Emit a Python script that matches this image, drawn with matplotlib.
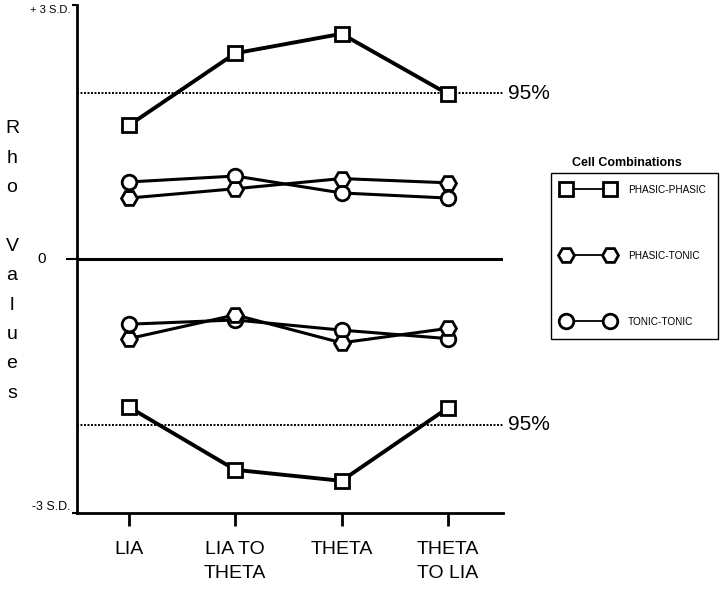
import matplotlib
matplotlib.use('Agg')
import matplotlib.pyplot as plt
from matplotlib.lines import Line2D

plt.rcParams['font.family'] = ['Liberation Sans', 'DejaVu Sans']

# values (in S.D. units)
categories = ['LIA', 'LIA TO\nTHETA', 'THETA', 'THETA\nTO LIA']
phasic_phasic_pos = [1.58, 2.43, 2.66, 1.95]
phasic_phasic_neg = [-1.75, -2.49, -2.62, -1.76]
phasic_tonic_pos = [0.72, 0.83, 0.95, 0.90]
phasic_tonic_neg = [-0.94, -0.66, -0.99, -0.82]
tonic_tonic_pos = [0.91, 0.98, 0.78, 0.72]
tonic_tonic_neg = [-0.77, -0.72, -0.84, -0.94]
sig_level = 1.96
legend_labels = ['PHASIC-PHASIC', 'PHASIC-TONIC', 'TONIC-TONIC']

fig = plt.figure(figsize=(7.2, 5.96), dpi=100)
ax = fig.add_axes([77/720, 1-513/596, (503-77)/720, (513-5)/596])
x = list(range(len(categories)))

ax.axhline(0, color='black', lw=2.2, zorder=1)
for y in (sig_level, -sig_level):
    ax.axhline(y, color='black', lw=1.4, ls=(0, (1, 0.8)), zorder=1)
    ax.text(1.012, y, '95%', transform=ax.get_yaxis_transform(),
            ha='left', va='center', fontsize=15, clip_on=False)

sq = dict(marker='s', ms=10, mfc='white', mec='black', mew=2, color='black', lw=2.8)
hx = dict(marker='H', ms=11.5, mfc='white', mec='black', mew=2, color='black', lw=2.2)
ci = dict(marker='o', ms=10.5, mfc='white', mec='black', mew=2, color='black', lw=2.2)

ax.plot(x, tonic_tonic_pos, **ci)
ax.plot(x, phasic_tonic_pos, **hx)
ax.plot(x, tonic_tonic_neg, **ci)
ax.plot(x, phasic_tonic_neg, **hx)
ax.plot(x, phasic_phasic_pos, **sq)
ax.plot(x, phasic_phasic_neg, **sq)

ax.set_xlim(-0.49, 3.52)
ax.set_ylim(-3, 3)
for s in ('top', 'right'):
    ax.spines[s].set_visible(False)
for s in ('left', 'bottom'):
    ax.spines[s].set_linewidth(2)

ax.set_xticks(x, categories)
ax.tick_params(axis='x', length=9, width=2, pad=11, labelsize=14)
for lab in ax.get_xticklabels():
    lab.set_linespacing(1.55)

ax.set_yticks([-3, 0, 3], ['-3 S.D.', '', '+ 3 S.D.'])
ax.tick_params(axis='y', length=3.5, width=1.5, pad=1)
ylabs = ax.get_yticklabels()
ylabs[0].set_fontsize(9)
ylabs[0].set_verticalalignment('bottom')
ylabs[2].set_fontsize(8)
ylabs[2].set_verticalalignment('top')
ax.yaxis.get_major_ticks()[1].tick1line.set_markersize(8)
ax.text(-0.082, 0, '0', transform=ax.get_yaxis_transform(),
        ha='center', va='center', fontsize=11)

fig.text(12/720, 1-261/596, 'R\nh\no\n\nV\na\nl\nu\ne\ns', ha='center', va='center',
         fontsize=14, linespacing=1.95)

handles = [
    Line2D([], [], color='black', lw=1.3, marker='s', ms=10, mfc='white', mew=2),
    Line2D([], [], color='black', lw=1.3, marker='H', ms=11.5, mfc='white', mew=2),
    Line2D([], [], color='black', lw=1.3, marker='o', ms=10.5, mfc='white', mew=2),
]
leg = fig.legend(handles, legend_labels, loc='upper left',
                 bbox_to_anchor=(551/720, 1-173/596), numpoints=2, fontsize=7.2,
                 handlelength=5.0, handletextpad=1.5, labelspacing=5.6,
                 borderpad=1.2, fancybox=False, edgecolor='black',
                 framealpha=1, borderaxespad=0)
leg.get_frame().set_linewidth(1)
fig.text(627/720, 1-163/596, 'Cell Combinations', ha='center', va='center',
         fontsize=9, fontweight='bold')

fig.savefig('out.png', dpi=100)
